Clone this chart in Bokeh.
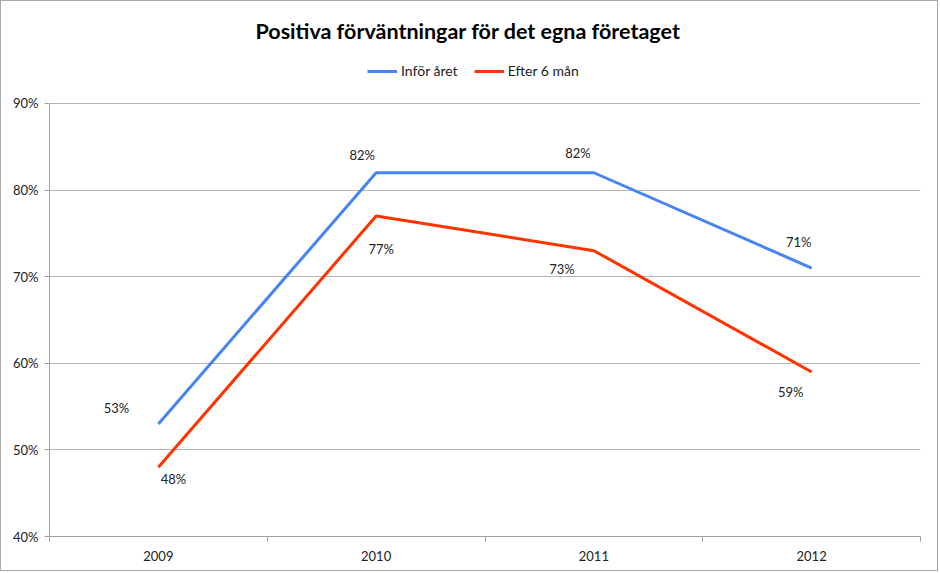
from bokeh.plotting import figure
from bokeh.models import (ColumnDataSource, LabelSet, Legend, LegendItem, FixedTicker,
                          Range1d, Title, PrintfTickFormatter)
from bokeh.core.properties import value
from bokeh.embed import file_html
from bokeh.resources import INLINE

years = [2009, 2010, 2011, 2012]
infor_aret = [53, 82, 82, 71]
efter_6_man = [48, 77, 73, 59]
y_ticks = [40, 50, 60, 70, 80, 90]
title_text = "Positiva förväntningar för det egna företaget"
series_names = ["Inför året", "Efter 6 mån"]

BLUE = "#4684F6"
RED = "#FF3300"
FONT = "Lato"
TXT = "#222222"

# label offsets (style): screen px, +y = up
blue_dx = [-42, -14, -16, -13]
blue_dy = [16, 18, 20, 26]
red_dx = [15, 5, -32, -21]
red_dy = [-12, -33, -18, -20]

# headroom above the top tick so the legend sits inside the frame
Y_TOP = 96

p = figure(width=938, height=571, output_backend="svg", toolbar_location=None,
           x_range=Range1d(years[0] - 0.5, years[-1] + 0.5),
           y_range=Range1d(y_ticks[0], Y_TOP),
           min_border_left=48, min_border_right=19, min_border_top=50, min_border_bottom=36)
p.styles = {"border": "1px solid #a8a8a8"}
p.outline_line_color = None
p.background_fill_color = "white"
p.border_fill_color = "white"

p.title = Title(text=title_text, align="left", text_font=FONT, text_font_size="21.5px",
                text_font_style="bold", text_color="#000000", standoff=16, offset=206)

# axes
p.xaxis.ticker = FixedTicker(ticks=years, minor_ticks=[y - 0.5 for y in years] + [years[-1] + 0.5])
p.xaxis.major_tick_line_color = None
p.xaxis.minor_tick_out = 5
p.xaxis.minor_tick_in = 0
p.xaxis.minor_tick_line_color = "#a0a0a0"
p.xaxis.axis_line_color = "#a0a0a0"
p.xaxis.major_label_standoff = 8
p.xaxis.major_label_overrides = {y: str(y) for y in years}

p.yaxis.ticker = FixedTicker(ticks=y_ticks)
p.yaxis.bounds = (y_ticks[0], y_ticks[-1])
p.yaxis.formatter = PrintfTickFormatter(format="%d%%")
p.yaxis.minor_tick_line_color = None
p.yaxis.major_tick_out = 5
p.yaxis.major_tick_in = 0
p.yaxis.major_tick_line_color = "#a0a0a0"
p.yaxis.axis_line_color = "#a0a0a0"
p.yaxis.major_label_standoff = 6

for ax in (p.xaxis, p.yaxis):
    ax.major_label_text_font = FONT
    ax.major_label_text_font_size = "13px"
    ax.major_label_text_color = TXT

p.xgrid.grid_line_color = None
p.ygrid.grid_line_color = "#b4b4b4"
p.ygrid.grid_line_width = 1

src_b = ColumnDataSource(dict(x=years, y=infor_aret, lab=[f"{v}%" for v in infor_aret],
                              dx=blue_dx, dy=blue_dy))
src_r = ColumnDataSource(dict(x=years, y=efter_6_man, lab=[f"{v}%" for v in efter_6_man],
                              dx=red_dx, dy=red_dy))

rb = p.line("x", "y", source=src_b, line_color=BLUE, line_width=3)
rr = p.line("x", "y", source=src_r, line_color=RED, line_width=3)

for s in (src_b, src_r):
    p.add_layout(LabelSet(x="x", y="y", text="lab", source=s, x_offset="dx", y_offset="dy",
                          text_align="center", text_baseline="middle", text_font=value(FONT),
                          text_font_size="13px", text_color=TXT))

legend = Legend(items=[LegendItem(label=series_names[0], renderers=[rb]),
                       LegendItem(label=series_names[1], renderers=[rr])],
                orientation="horizontal", location=(318, 457),
                border_line_color=None, background_fill_alpha=0,
                label_text_font=FONT, label_text_font_size="14px", label_text_color=TXT,
                glyph_width=30, glyph_height=14, label_height=14,
                label_standoff=4, spacing=16, padding=4, margin=0)
p.add_layout(legend, "center")

open("out.html", "w").write(file_html(p, INLINE))
